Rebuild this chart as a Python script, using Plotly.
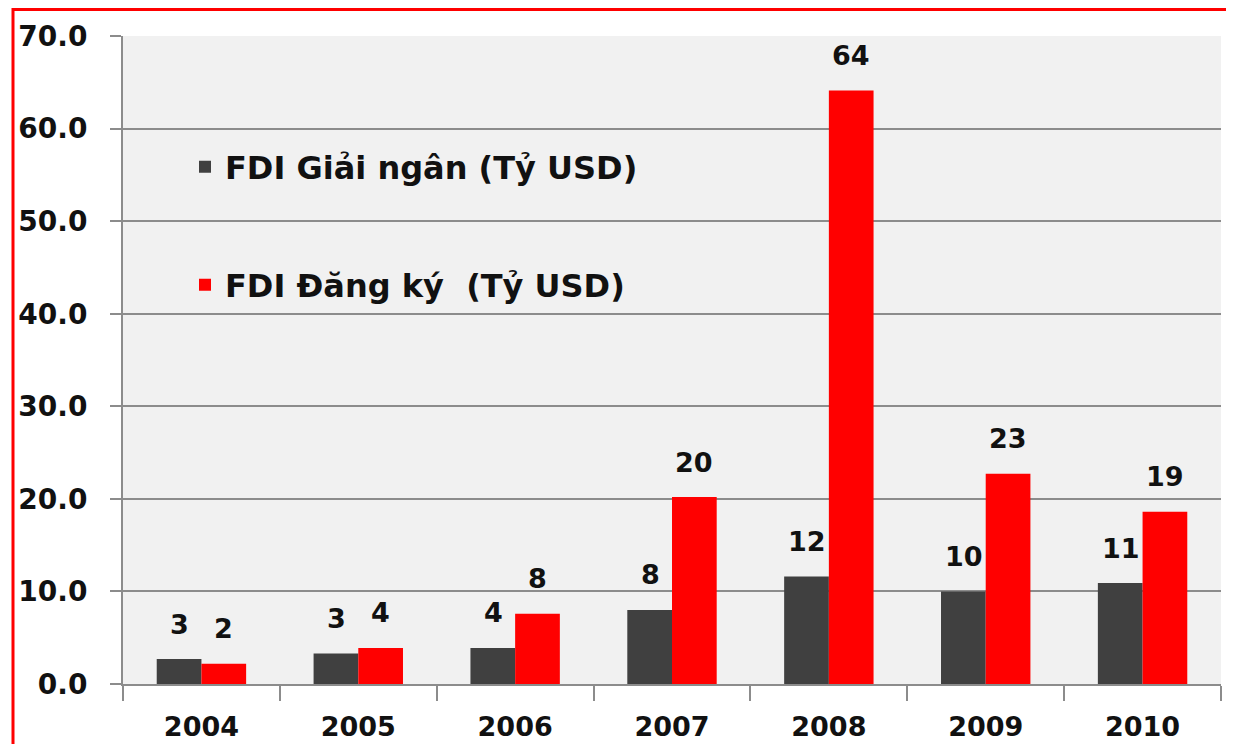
import plotly.graph_objects as go

years = ["2004", "2005", "2006", "2007", "2008", "2009", "2010"]
giai_ngan = [2.7, 3.3, 3.9, 8.0, 11.6, 10.0, 10.9]
dang_ky = [2.2, 3.9, 7.6, 20.2, 64.1, 22.7, 18.6]
y_ticks = [0, 10, 20, 30, 40, 50, 60, 70]

name_gn = "FDI Giải ngân (Tỷ USD)"
name_dk = "FDI Đăng ký  (Tỷ USD)"
col_gn = "#404040"
col_dk = "#ff0000"
axis_col = "#8c8c8c"
txt_col = "#111111"
FONT = "DejaVu Sans"

# page has an 8px body margin: the figure starts at (8, 8)
OFF = 8
W, H = 1218, 736
PL, PR, PT, PB = 123, 1221, 36, 684      # plot area in page pixels
L, T = PL - OFF, PT - OFF
R = W - (PR - OFF)
B = H - (PB - OFF)
PW, PH = W - L - R, H - T - B


def px_x(p):
    return (p - OFF - L) / PW


def px_y(p):
    return (H - B - (p - OFF)) / PH


fig = go.Figure()
fig.add_trace(go.Bar(x=years, y=giai_ngan, name=name_gn, marker_color=col_gn,
                     marker_line_width=0, legend="legend", showlegend=True))
fig.add_trace(go.Bar(x=years, y=dang_ky, name=name_dk, marker_color=col_dk,
                     marker_line_width=0, legend="legend2", showlegend=True))

ann = []
for vals, dx in ((giai_ngan, -22), (dang_ky, 22)):
    for i, v in enumerate(vals):
        ann.append(dict(x=i, y=v, xref="x", yref="y", text=f"{v:.0f}", showarrow=False,
                        xshift=dx, yshift=35, yanchor="middle",
                        font=dict(family=FONT, size=27, color=txt_col, weight="bold")))

leg_font = dict(family=FONT, size=32, color=txt_col, weight="bold")
tick_font = dict(family=FONT, size=28, color=txt_col, weight="bold")
xtick_font = dict(family=FONT, size=27, color=txt_col, weight="bold")

fig.update_layout(
    width=W, height=H,
    margin=dict(l=L, r=R, t=T, b=B, autoexpand=False),
    paper_bgcolor="white",
    plot_bgcolor="#f1f1f1",
    barmode="group",
    bargap=0.43,
    bargroupgap=0,
    showlegend=True,
    font=dict(family=FONT, color=txt_col, weight="bold"),
    annotations=ann,
    legend=dict(x=px_x(185), y=px_y(167), xanchor="left", yanchor="middle",
                bgcolor="rgba(0,0,0,0)", borderwidth=0, font=leg_font),
    legend2=dict(x=px_x(185), y=px_y(285), xanchor="left", yanchor="middle",
                 bgcolor="rgba(0,0,0,0)", borderwidth=0, font=leg_font),
    xaxis=dict(type="category", range=[-0.5, len(years) - 0.5],
               categoryorder="array", categoryarray=years,
               showgrid=False, showline=True, linecolor=axis_col,
               linewidth=2, ticks="outside", tickson="boundaries", ticklen=15,
               tickwidth=2, tickcolor=axis_col, automargin=False,
               ticklabelstandoff=18, tickfont=xtick_font),
    yaxis=dict(range=[0, 70], tickvals=y_ticks, tickformat=".1f", showgrid=True,
               gridcolor=axis_col, gridwidth=2, showline=True, linecolor=axis_col,
               linewidth=2, ticks="outside", ticklen=11, tickwidth=2,
               tickcolor=axis_col, zeroline=False, automargin=False,
               ticklabelstandoff=17, tickfont=tick_font),
    shapes=[dict(type="rect", xref="paper", yref="paper",
                 x0=px_x(13), x1=px_x(1260), y0=px_y(790), y1=px_y(9.5),
                 line=dict(color="#ff0000", width=3), fillcolor="rgba(0,0,0,0)")],
)

fig.write_html("out.html")
